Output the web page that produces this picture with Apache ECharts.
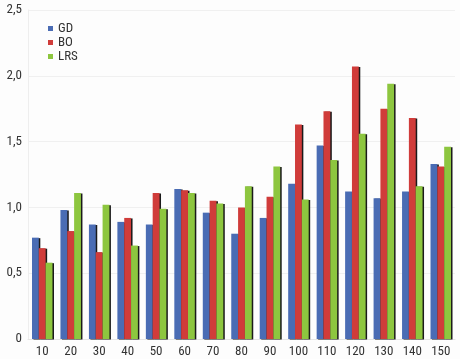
<!DOCTYPE html>
<html><head><meta charset="utf-8">
<script src="https://cdn.jsdelivr.net/npm/echarts@6/dist/echarts.min.js"></script>
<style>html,body{margin:0;padding:0;background:#fdfdfd}#c{width:460px;height:359px}</style>
</head><body><div id="c"></div>
<script>
var categories = ['10','20','30','40','50','60','70','80','90','100','110','120','130','140','150'];
var GD  = [0.77,0.98,0.87,0.89,0.87,1.14,0.96,0.80,0.92,1.18,1.47,1.12,1.07,1.12,1.33];
var BO  = [0.69,0.82,0.66,0.92,1.11,1.13,1.05,1.00,1.08,1.63,1.73,2.07,1.75,1.68,1.31];
var LRS = [0.58,1.11,1.02,0.71,0.99,1.11,1.03,1.16,1.31,1.06,1.36,1.56,1.94,1.16,1.46];
var yTicks = [0,0.5,1.0,1.5,2.0,2.5];
var font = 'Liberation Sans Narrow, Roboto Condensed, Roboto, sans-serif';
var chart = echarts.init(document.getElementById('c'));
function ser(name, data, color){
  return {name:name, type:'bar', data:data, barGap:'0%', barCategoryGap:'28%',
    itemStyle:{color:color, shadowColor:'#1a1a1a', shadowOffsetX:1.5, shadowOffsetY:0.5, shadowBlur:0}};
}
chart.setOption({
  backgroundColor:'#fdfdfd',
  animation:false,
  grid:{left:28, right:5, top:10, bottom:20},
  legend:{orient:'vertical', left:43, top:17, itemWidth:5, itemHeight:5, itemGap:1,
    icon:'rect', textStyle:{fontFamily:font, fontSize:13, color:'#333', lineHeight:13}, itemStyle:{shadowBlur:0,shadowOffsetX:0,shadowOffsetY:0}},
  xAxis:{type:'category', data:categories,
    axisLine:{lineStyle:{color:'#e6e6e6'}}, axisTick:{show:false},
    axisLabel:{fontFamily:font, fontSize:13, color:'#333', margin:6}},
  yAxis:{type:'value', min:yTicks[0], max:yTicks[yTicks.length-1], interval:0.5,
    axisLine:{show:true, lineStyle:{color:'#eeeeee'}},
    splitLine:{lineStyle:{color:'#f0f0f0'}},
    axisLabel:{fontFamily:font, fontSize:13, color:'#333', margin:6,
      formatter:function(v){ return v===0 ? '0' : v.toFixed(1).replace('.',','); }}},
  series:[ser('GD',GD,'#4a6cb4'), ser('BO',BO,'#d03c3a'), ser('LRS',LRS,'#8dc63f')]
});
</script></body></html>
